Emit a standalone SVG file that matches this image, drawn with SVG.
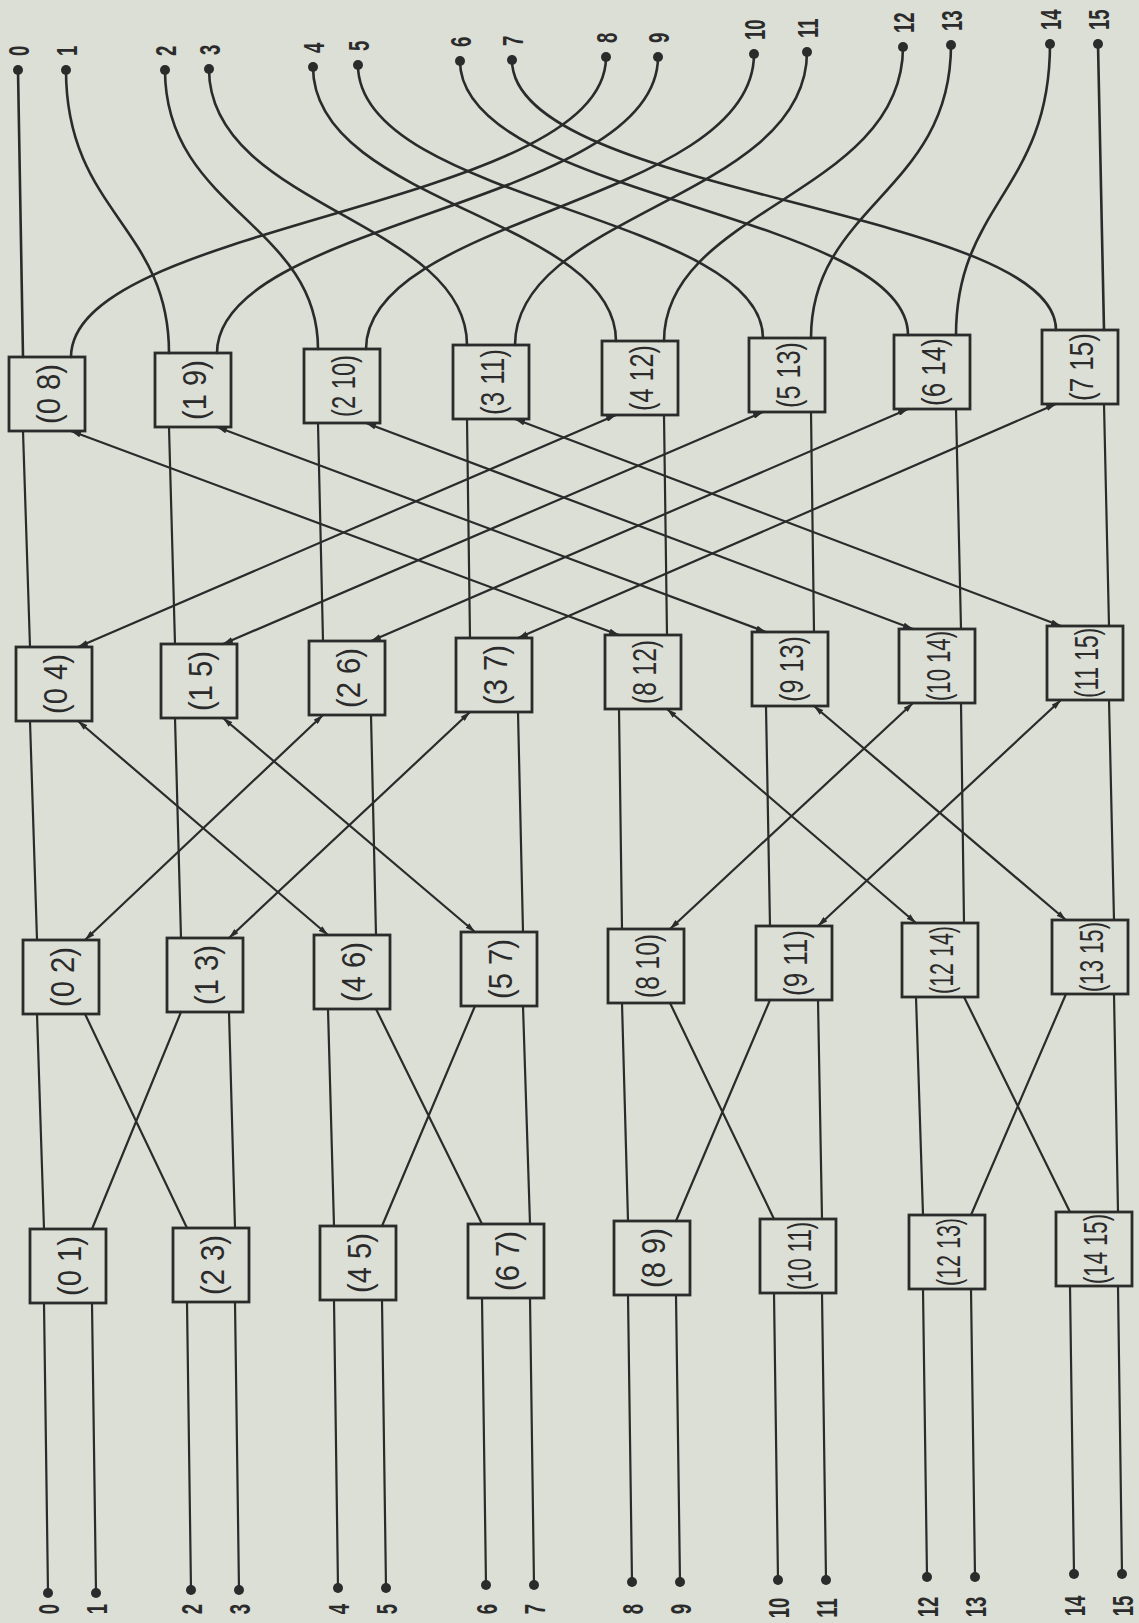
<svg xmlns="http://www.w3.org/2000/svg" width="1139" height="1623" viewBox="0 0 1139 1623">
<style>
  .bg{fill:#dcdfd6}
  .w{fill:none;stroke:#2b2b2b;stroke-width:2.2;stroke-linecap:round}
  .c{fill:none;stroke:#2b2b2b;stroke-width:2.6;stroke-linecap:round}
  .box{fill:none;stroke:#2b2b2b;stroke-width:2.8}
  .dot{fill:#2b2b2b}
  .lbl{font-family:"Liberation Sans",Arial,sans-serif;font-size:33px;fill:#2b2b2b}
  .num{font-family:"Liberation Sans",Arial,sans-serif;font-size:30px;font-weight:bold;fill:#2b2b2b}
</style>
<defs>
  <marker id="ah" viewBox="0 0 10 6" refX="10" refY="3" markerWidth="10" markerHeight="6" markerUnits="userSpaceOnUse" orient="auto-start-reverse">
    <path d="M0,0 L10,3 L0,6 Z" fill="#2b2b2b"/>
  </marker>
</defs>
<rect class="bg" x="0" y="0" width="1139" height="1623"/>

<g id="connectors">
  <!-- inputs into first stage -->
  <path class="w" d="M48 1593 L44 1303 M96 1593 L92 1303 M191 1590 L187 1302 M239 1590 L235 1302 M338 1588 L334 1300 M386 1588 L382 1300 M486 1585 L482 1298 M534 1585 L530 1298 M632 1582 L628 1295 M680 1582 L676 1295 M778 1580 L774 1293 M826 1580 L822 1293 M927 1577 L923 1289 M975 1577 L971 1289 M1074 1574 L1070 1286 M1122 1574 L1118 1286"/>
  <!-- stage 1 to stage 2 -->
  <path class="w" d="M44 1229 L37 1014 M92 1229 L181 1012 M187 1228 L85 1014 M235 1228 L229 1012 M334 1226 L328 1009 M382 1226 L475 1006 M482 1224 L376 1009 M530 1224 L523 1006 M628 1221 L622 1003 M676 1221 L770 1000 M774 1219 L670 1003 M822 1219 L818 1000 M923 1215 L916 997 M971 1215 L1066 994 M1070 1212 L964 997 M1118 1212 L1114 994"/>
  <!-- stage 2 to stage 3 -->
  <path class="w" d="M37 940 L30 721 M181 938 L175 718 M376 935 L371 715 M523 932 L518 712 M622 929 L619 709 M770 926 L766 706 M964 923 L961 703 M1114 920 L1109 700"/>
  <line class="w" x1="85" y1="940" x2="323" y2="715" marker-start="url(#ah)" marker-end="url(#ah)"/>
  <line class="w" x1="229" y1="938" x2="470" y2="712" marker-start="url(#ah)" marker-end="url(#ah)"/>
  <line class="w" x1="328" y1="935" x2="78" y2="721" marker-start="url(#ah)" marker-end="url(#ah)"/>
  <line class="w" x1="475" y1="932" x2="223" y2="718" marker-start="url(#ah)" marker-end="url(#ah)"/>
  <line class="w" x1="670" y1="929" x2="913" y2="703" marker-start="url(#ah)" marker-end="url(#ah)"/>
  <line class="w" x1="818" y1="926" x2="1061" y2="700" marker-start="url(#ah)" marker-end="url(#ah)"/>
  <line class="w" x1="916" y1="923" x2="667" y2="709" marker-start="url(#ah)" marker-end="url(#ah)"/>
  <line class="w" x1="1066" y1="920" x2="814" y2="706" marker-start="url(#ah)" marker-end="url(#ah)"/>
  <!-- stage 3 to stage 4 -->
  <path class="w" d="M30 647 L23 431 M175 644 L169 427 M323 641 L318 423 M470 638 L467 419 M667 635 L664 415 M814 632 L811 412 M961 629 L956 409 M1109 626 L1104 404"/>
  <line class="w" x1="78" y1="647" x2="616" y2="415" marker-start="url(#ah)" marker-end="url(#ah)"/>
  <line class="w" x1="223" y1="644" x2="763" y2="412" marker-start="url(#ah)" marker-end="url(#ah)"/>
  <line class="w" x1="371" y1="641" x2="908" y2="409" marker-start="url(#ah)" marker-end="url(#ah)"/>
  <line class="w" x1="518" y1="638" x2="1056" y2="404" marker-start="url(#ah)" marker-end="url(#ah)"/>
  <line class="w" x1="619" y1="635" x2="71" y2="431" marker-start="url(#ah)" marker-end="url(#ah)"/>
  <line class="w" x1="766" y1="632" x2="217" y2="427" marker-start="url(#ah)" marker-end="url(#ah)"/>
  <line class="w" x1="913" y1="629" x2="366" y2="423" marker-start="url(#ah)" marker-end="url(#ah)"/>
  <line class="w" x1="1061" y1="626" x2="515" y2="419" marker-start="url(#ah)" marker-end="url(#ah)"/>
  <!-- last stage to outputs -->
  <path class="c" d="M23 357 L18 70"/>
  <path class="c" d="M71 357 C71 222 606 207 606 57"/>
  <path class="c" d="M169 353 C169 226 66 211.5 66 70"/>
  <path class="c" d="M217 353 C217 220 658 205 658 57"/>
  <path class="c" d="M318 349 C318 223.5 165 209.5 165 70"/>
  <path class="c" d="M366 349 C366 216 754 201.5 754 54"/>
  <path class="c" d="M467 345 C467 221 209 207 209 69"/>
  <path class="c" d="M515 345 C515 213 807 198.5 807 52"/>
  <path class="c" d="M616 341 C616 218 313 204 313 67"/>
  <path class="c" d="M664 341 C664 209 903 194 903 47"/>
  <path class="c" d="M763 338 C763 215 358 201.5 358 65"/>
  <path class="c" d="M811 338 C811 206 951 191.5 951 45"/>
  <path class="c" d="M908 335 C908 212 460 198 460 61"/>
  <path class="c" d="M956 335 C956 204 1050 189.5 1050 44"/>
  <path class="c" d="M1056 330 C1056 208.5 512 195 512 60"/>
  <path class="c" d="M1104 330 L1098 44"/>
</g>

<!-- stage 4 switches -->
<g id="sw-0-8" transform="translate(47 394)"><rect class="box" x="-38" y="-37" width="76" height="74"/><text class="lbl" transform="rotate(-90)" x="-30" y="13" textLength="60" lengthAdjust="spacingAndGlyphs">(0 8)</text></g>
<g id="sw-1-9" transform="translate(193 390)"><rect class="box" x="-38" y="-37" width="76" height="74"/><text class="lbl" transform="rotate(-90)" x="-30" y="13" textLength="60" lengthAdjust="spacingAndGlyphs">(1 9)</text></g>
<g id="sw-2-10" transform="translate(342 386)"><rect class="box" x="-38" y="-37" width="76" height="74"/><text class="lbl" transform="rotate(-90)" x="-31" y="13" textLength="62" lengthAdjust="spacingAndGlyphs">(2 10)</text></g>
<g id="sw-3-11" transform="translate(491 382)"><rect class="box" x="-38" y="-37" width="76" height="74"/><text class="lbl" transform="rotate(-90)" x="-33" y="13" textLength="66" lengthAdjust="spacingAndGlyphs">(3 11)</text></g>
<g id="sw-4-12" transform="translate(640 378)"><rect class="box" x="-38" y="-37" width="76" height="74"/><text class="lbl" transform="rotate(-90)" x="-33" y="13" textLength="66" lengthAdjust="spacingAndGlyphs">(4 12)</text></g>
<g id="sw-5-13" transform="translate(787 375)"><rect class="box" x="-38" y="-37" width="76" height="74"/><text class="lbl" transform="rotate(-90)" x="-33" y="13" textLength="66" lengthAdjust="spacingAndGlyphs">(5 13)</text></g>
<g id="sw-6-14" transform="translate(932 372)"><rect class="box" x="-38" y="-37" width="76" height="74"/><text class="lbl" transform="rotate(-90)" x="-34" y="13" textLength="68" lengthAdjust="spacingAndGlyphs">(6 14)</text></g>
<g id="sw-7-15" transform="translate(1080 367)"><rect class="box" x="-38" y="-37" width="76" height="74"/><text class="lbl" transform="rotate(-90)" x="-34" y="13" textLength="68" lengthAdjust="spacingAndGlyphs">(7 15)</text></g>

<!-- stage 3 switches -->
<g id="sw-0-4" transform="translate(54 684)"><rect class="box" x="-38" y="-37" width="76" height="74"/><text class="lbl" transform="rotate(-90)" x="-30" y="13" textLength="60" lengthAdjust="spacingAndGlyphs">(0 4)</text></g>
<g id="sw-1-5" transform="translate(199 681)"><rect class="box" x="-38" y="-37" width="76" height="74"/><text class="lbl" transform="rotate(-90)" x="-30" y="13" textLength="60" lengthAdjust="spacingAndGlyphs">(1 5)</text></g>
<g id="sw-2-6" transform="translate(347 678)"><rect class="box" x="-38" y="-37" width="76" height="74"/><text class="lbl" transform="rotate(-90)" x="-30" y="13" textLength="60" lengthAdjust="spacingAndGlyphs">(2 6)</text></g>
<g id="sw-3-7" transform="translate(494 675)"><rect class="box" x="-38" y="-37" width="76" height="74"/><text class="lbl" transform="rotate(-90)" x="-30" y="13" textLength="60" lengthAdjust="spacingAndGlyphs">(3 7)</text></g>
<g id="sw-8-12" transform="translate(643 672)"><rect class="box" x="-38" y="-37" width="76" height="74"/><text class="lbl" transform="rotate(-90)" x="-32" y="13" textLength="64" lengthAdjust="spacingAndGlyphs">(8 12)</text></g>
<g id="sw-9-13" transform="translate(790 669)"><rect class="box" x="-38" y="-37" width="76" height="74"/><text class="lbl" transform="rotate(-90)" x="-33" y="13" textLength="66" lengthAdjust="spacingAndGlyphs">(9 13)</text></g>
<g id="sw-10-14" transform="translate(937 666)"><rect class="box" x="-38" y="-37" width="76" height="74"/><text class="lbl" transform="rotate(-90)" x="-35" y="13" textLength="70" lengthAdjust="spacingAndGlyphs">(10 14)</text></g>
<g id="sw-11-15" transform="translate(1085 663)"><rect class="box" x="-38" y="-37" width="76" height="74"/><text class="lbl" transform="rotate(-90)" x="-35" y="13" textLength="70" lengthAdjust="spacingAndGlyphs">(11 15)</text></g>

<!-- stage 2 switches -->
<g id="sw-0-2" transform="translate(61 977)"><rect class="box" x="-38" y="-37" width="76" height="74"/><text class="lbl" transform="rotate(-90)" x="-30" y="13" textLength="60" lengthAdjust="spacingAndGlyphs">(0 2)</text></g>
<g id="sw-1-3" transform="translate(205 975)"><rect class="box" x="-38" y="-37" width="76" height="74"/><text class="lbl" transform="rotate(-90)" x="-30" y="13" textLength="60" lengthAdjust="spacingAndGlyphs">(1 3)</text></g>
<g id="sw-4-6" transform="translate(352 972)"><rect class="box" x="-38" y="-37" width="76" height="74"/><text class="lbl" transform="rotate(-90)" x="-30" y="13" textLength="60" lengthAdjust="spacingAndGlyphs">(4 6)</text></g>
<g id="sw-5-7" transform="translate(499 969)"><rect class="box" x="-38" y="-37" width="76" height="74"/><text class="lbl" transform="rotate(-90)" x="-30" y="13" textLength="60" lengthAdjust="spacingAndGlyphs">(5 7)</text></g>
<g id="sw-8-10" transform="translate(646 966)"><rect class="box" x="-38" y="-37" width="76" height="74"/><text class="lbl" transform="rotate(-90)" x="-32" y="13" textLength="64" lengthAdjust="spacingAndGlyphs">(8 10)</text></g>
<g id="sw-9-11" transform="translate(794 963)"><rect class="box" x="-38" y="-37" width="76" height="74"/><text class="lbl" transform="rotate(-90)" x="-33" y="13" textLength="66" lengthAdjust="spacingAndGlyphs">(9 11)</text></g>
<g id="sw-12-14" transform="translate(940 960)"><rect class="box" x="-38" y="-37" width="76" height="74"/><text class="lbl" transform="rotate(-90)" x="-34" y="13" textLength="68" lengthAdjust="spacingAndGlyphs">(12 14)</text></g>
<g id="sw-13-15" transform="translate(1090 957)"><rect class="box" x="-38" y="-37" width="76" height="74"/><text class="lbl" transform="rotate(-90)" x="-35" y="13" textLength="70" lengthAdjust="spacingAndGlyphs">(13 15)</text></g>

<!-- stage 1 switches -->
<g id="sw-0-1" transform="translate(68 1266)"><rect class="box" x="-38" y="-37" width="76" height="74"/><text class="lbl" transform="rotate(-90)" x="-30" y="13" textLength="60" lengthAdjust="spacingAndGlyphs">(0 1)</text></g>
<g id="sw-2-3" transform="translate(211 1265)"><rect class="box" x="-38" y="-37" width="76" height="74"/><text class="lbl" transform="rotate(-90)" x="-30" y="13" textLength="60" lengthAdjust="spacingAndGlyphs">(2 3)</text></g>
<g id="sw-4-5" transform="translate(358 1263)"><rect class="box" x="-38" y="-37" width="76" height="74"/><text class="lbl" transform="rotate(-90)" x="-30" y="13" textLength="60" lengthAdjust="spacingAndGlyphs">(4 5)</text></g>
<g id="sw-6-7" transform="translate(506 1261)"><rect class="box" x="-38" y="-37" width="76" height="74"/><text class="lbl" transform="rotate(-90)" x="-30" y="13" textLength="60" lengthAdjust="spacingAndGlyphs">(6 7)</text></g>
<g id="sw-8-9" transform="translate(652 1258)"><rect class="box" x="-38" y="-37" width="76" height="74"/><text class="lbl" transform="rotate(-90)" x="-30" y="13" textLength="60" lengthAdjust="spacingAndGlyphs">(8 9)</text></g>
<g id="sw-10-11" transform="translate(798 1256)"><rect class="box" x="-38" y="-37" width="76" height="74"/><text class="lbl" transform="rotate(-90)" x="-34" y="13" textLength="68" lengthAdjust="spacingAndGlyphs">(10 11)</text></g>
<g id="sw-12-13" transform="translate(947 1252)"><rect class="box" x="-38" y="-37" width="76" height="74"/><text class="lbl" transform="rotate(-90)" x="-34" y="13" textLength="68" lengthAdjust="spacingAndGlyphs">(12 13)</text></g>
<g id="sw-14-15" transform="translate(1094 1249)"><rect class="box" x="-38" y="-37" width="76" height="74"/><text class="lbl" transform="rotate(-90)" x="-35" y="13" textLength="70" lengthAdjust="spacingAndGlyphs">(14 15)</text></g>

<!-- output terminals -->
<g id="out-0"><circle class="dot" cx="18" cy="70" r="5"/><text class="num" transform="translate(18 56) rotate(-90) scale(0.62 1)" y="10.5">0</text></g>
<g id="out-1"><circle class="dot" cx="66" cy="70" r="5"/><text class="num" transform="translate(66 56) rotate(-90) scale(0.62 1)" y="10.5">1</text></g>
<g id="out-2"><circle class="dot" cx="165" cy="70" r="5"/><text class="num" transform="translate(165 56) rotate(-90) scale(0.62 1)" y="10.5">2</text></g>
<g id="out-3"><circle class="dot" cx="209" cy="69" r="5"/><text class="num" transform="translate(209 55) rotate(-90) scale(0.62 1)" y="10.5">3</text></g>
<g id="out-4"><circle class="dot" cx="313" cy="67" r="5"/><text class="num" transform="translate(313 53) rotate(-90) scale(0.62 1)" y="10.5">4</text></g>
<g id="out-5"><circle class="dot" cx="358" cy="65" r="5"/><text class="num" transform="translate(358 51) rotate(-90) scale(0.62 1)" y="10.5">5</text></g>
<g id="out-6"><circle class="dot" cx="460" cy="61" r="5"/><text class="num" transform="translate(460 47) rotate(-90) scale(0.62 1)" y="10.5">6</text></g>
<g id="out-7"><circle class="dot" cx="512" cy="60" r="5"/><text class="num" transform="translate(512 46) rotate(-90) scale(0.62 1)" y="10.5">7</text></g>
<g id="out-8"><circle class="dot" cx="606" cy="57" r="5"/><text class="num" transform="translate(606 43) rotate(-90) scale(0.62 1)" y="10.5">8</text></g>
<g id="out-9"><circle class="dot" cx="658" cy="57" r="5"/><text class="num" transform="translate(658 43) rotate(-90) scale(0.62 1)" y="10.5">9</text></g>
<g id="out-10"><circle class="dot" cx="754" cy="54" r="5"/><text class="num" transform="translate(754 40) rotate(-90) scale(0.62 1)" y="10.5">10</text></g>
<g id="out-11"><circle class="dot" cx="807" cy="52" r="5"/><text class="num" transform="translate(807 38) rotate(-90) scale(0.62 1)" y="10.5">11</text></g>
<g id="out-12"><circle class="dot" cx="903" cy="47" r="5"/><text class="num" transform="translate(903 33) rotate(-90) scale(0.62 1)" y="10.5">12</text></g>
<g id="out-13"><circle class="dot" cx="951" cy="45" r="5"/><text class="num" transform="translate(951 31) rotate(-90) scale(0.62 1)" y="10.5">13</text></g>
<g id="out-14"><circle class="dot" cx="1050" cy="44" r="5"/><text class="num" transform="translate(1050 30) rotate(-90) scale(0.62 1)" y="10.5">14</text></g>
<g id="out-15"><circle class="dot" cx="1098" cy="44" r="5"/><text class="num" transform="translate(1098 30) rotate(-90) scale(0.62 1)" y="10.5">15</text></g>

<!-- input terminals -->
<g id="in-0"><circle class="dot" cx="48" cy="1593" r="5"/><text class="num" text-anchor="middle" transform="translate(48 1609) rotate(-90) scale(0.62 1)" y="10.5">0</text></g>
<g id="in-1"><circle class="dot" cx="96" cy="1593" r="5"/><text class="num" text-anchor="middle" transform="translate(96 1609) rotate(-90) scale(0.62 1)" y="10.5">1</text></g>
<g id="in-2"><circle class="dot" cx="191" cy="1590" r="5"/><text class="num" text-anchor="middle" transform="translate(191 1609) rotate(-90) scale(0.62 1)" y="10.5">2</text></g>
<g id="in-3"><circle class="dot" cx="239" cy="1590" r="5"/><text class="num" text-anchor="middle" transform="translate(239 1609) rotate(-90) scale(0.62 1)" y="10.5">3</text></g>
<g id="in-4"><circle class="dot" cx="338" cy="1588" r="5"/><text class="num" text-anchor="middle" transform="translate(338 1609) rotate(-90) scale(0.62 1)" y="10.5">4</text></g>
<g id="in-5"><circle class="dot" cx="386" cy="1588" r="5"/><text class="num" text-anchor="middle" transform="translate(386 1609) rotate(-90) scale(0.62 1)" y="10.5">5</text></g>
<g id="in-6"><circle class="dot" cx="486" cy="1585" r="5"/><text class="num" text-anchor="middle" transform="translate(486 1609) rotate(-90) scale(0.62 1)" y="10.5">6</text></g>
<g id="in-7"><circle class="dot" cx="534" cy="1585" r="5"/><text class="num" text-anchor="middle" transform="translate(534 1609) rotate(-90) scale(0.62 1)" y="10.5">7</text></g>
<g id="in-8"><circle class="dot" cx="632" cy="1582" r="5"/><text class="num" text-anchor="middle" transform="translate(632 1609) rotate(-90) scale(0.62 1)" y="10.5">8</text></g>
<g id="in-9"><circle class="dot" cx="680" cy="1582" r="5"/><text class="num" text-anchor="middle" transform="translate(680 1609) rotate(-90) scale(0.62 1)" y="10.5">9</text></g>
<g id="in-10"><circle class="dot" cx="778" cy="1580" r="5"/><text class="num" text-anchor="middle" transform="translate(778 1608) rotate(-90) scale(0.62 1)" y="10.5">10</text></g>
<g id="in-11"><circle class="dot" cx="826" cy="1580" r="5"/><text class="num" text-anchor="middle" transform="translate(826 1608) rotate(-90) scale(0.62 1)" y="10.5">11</text></g>
<g id="in-12"><circle class="dot" cx="927" cy="1577" r="5"/><text class="num" text-anchor="middle" transform="translate(927 1607) rotate(-90) scale(0.62 1)" y="10.5">12</text></g>
<g id="in-13"><circle class="dot" cx="975" cy="1577" r="5"/><text class="num" text-anchor="middle" transform="translate(975 1607) rotate(-90) scale(0.62 1)" y="10.5">13</text></g>
<g id="in-14"><circle class="dot" cx="1074" cy="1574" r="5"/><text class="num" text-anchor="middle" transform="translate(1074 1606) rotate(-90) scale(0.62 1)" y="10.5">14</text></g>
<g id="in-15"><circle class="dot" cx="1122" cy="1574" r="5"/><text class="num" text-anchor="middle" transform="translate(1122 1606) rotate(-90) scale(0.62 1)" y="10.5">15</text></g>
</svg>
